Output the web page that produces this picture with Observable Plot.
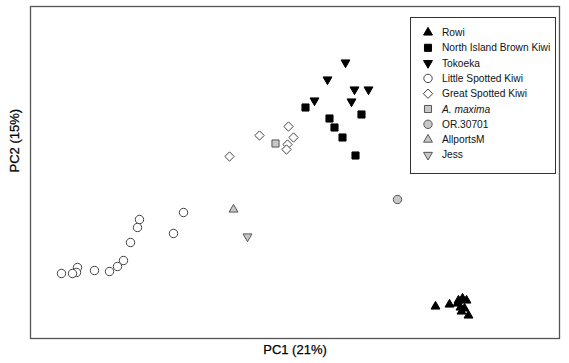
<!DOCTYPE html>
<html>
<head>
<meta charset="utf-8">
<script src="https://cdn.jsdelivr.net/npm/d3@7"></script>
<script src="https://cdn.jsdelivr.net/npm/@observablehq/plot@0.6"></script>
<style>
  html, body { margin: 0; padding: 0; background: #fff; }
  #wrap { position: relative; width: 569px; height: 363px; font-family: "Liberation Sans", Arial, sans-serif; }
  #legend { position: absolute; left: 410px; top: 17px; }
</style>
</head>
<body>
<div id="wrap"></div>
<script>
// PCA scores (PC1, PC2)
const rowiPC1 = [1.45, 1.59, 1.67, 1.68, 1.72, 1.76, 1.70, 1.74, 1.71, 1.78];
const rowiPC2 = [-1.06, -1.04, -1.03, -1.00, -0.98, -1.00, -1.07, -1.08, -1.11, -1.15];
const nibkPC1 = [0.15, 0.39, 0.71, 0.44, 0.52, 0.65];
const nibkPC2 = [0.93, 0.82, 0.86, 0.73, 0.63, 0.45];
const tokoekaPC1 = [0.55, 0.37, 0.64, 0.78, 0.24, 0.61];
const tokoekaPC2 = [1.38, 1.21, 1.11, 1.11, 1.00, 0.99];
const lskPC1 = [-1.07, -1.51, -1.53, -1.17, -1.60, -1.67, -1.73, -1.81, -1.96, -2.13, -2.14, -2.18, -2.29];
const lskPC2 = [-0.12, -0.19, -0.27, -0.33, -0.42, -0.60, -0.66, -0.71, -0.70, -0.67, -0.72, -0.73, -0.73];
const gskPC1 = [-0.02, -0.31, 0.03, -0.03, -0.04, -0.61];
const gskPC2 = [0.74, 0.65, 0.63, 0.56, 0.51, 0.44];
const maximaPC1 = [-0.15];
const maximaPC2 = [0.57];
const or30701PC1 = [1.07];
const or30701PC2 = [0.01];
const allportsPC1 = [-0.57];
const allportsPC2 = [-0.09];
const jessPC1 = [-0.43];
const jessPC2 = [-0.36];

const seriesNames = ["Rowi", "North Island Brown Kiwi", "Tokoeka", "Little Spotted Kiwi",
  "Great Spotted Kiwi", "A. maxima", "OR.30701", "AllportsM", "Jess"];
const xLabel = "PC1 (21%)";
const yLabel = "PC2 (15%)";

const sqrt3 = Math.sqrt(3);
const triangleDown = {
  draw(context, size) {
    const y = -Math.sqrt(size / (sqrt3 * 3));
    context.moveTo(0, -y * 2);
    context.lineTo(-sqrt3 * y, y);
    context.lineTo(sqrt3 * y, y);
    context.closePath();
  }
};

const toRows = (xs, ys) => xs.map((x, i) => ({pc1: x, pc2: ys[i]}));

const styles = [
  {name: seriesNames[0], data: toRows(rowiPC1, rowiPC2), symbol: "triangle", fill: "#000", stroke: "#000", r: 3.3},
  {name: seriesNames[1], data: toRows(nibkPC1, nibkPC2), symbol: "square", fill: "#000", stroke: "#000", r: 4.0},
  {name: seriesNames[2], data: toRows(tokoekaPC1, tokoekaPC2), symbol: triangleDown, fill: "#000", stroke: "#000", r: 3.3},
  {name: seriesNames[3], data: toRows(lskPC1, lskPC2), symbol: "circle", fill: "#fff", stroke: "#444", r: 4.2},
  {name: seriesNames[4], data: toRows(gskPC1, gskPC2), symbol: "diamond2", fill: "#fff", stroke: "#444", r: 4.2},
  {name: seriesNames[5], data: toRows(maximaPC1, maximaPC2), symbol: "square", fill: "#c8c8c8", stroke: "#555", r: 4.0},
  {name: seriesNames[6], data: toRows(or30701PC1, or30701PC2), symbol: "circle", fill: "#c8c8c8", stroke: "#555", r: 4.2},
  {name: seriesNames[7], data: toRows(allportsPC1, allportsPC2), symbol: "triangle", fill: "#c8c8c8", stroke: "#555", r: 3.3},
  {name: seriesNames[8], data: toRows(jessPC1, jessPC2), symbol: triangleDown, fill: "#c8c8c8", stroke: "#555", r: 3.3}
];

const chart = Plot.plot({
  width: 569,
  height: 363,
  marginLeft: 30,
  marginRight: 10,
  marginTop: 6,
  marginBottom: 25,
  style: {fontFamily: "Liberation Sans, Arial, sans-serif", background: "#fff"},
  x: {domain: [-2.6, 2.69], axis: null},
  y: {domain: [-1.38, 1.94], axis: null},
  marks: [
    Plot.frame({stroke: "#555", strokeWidth: 1.3}),
    ...styles.map(s => Plot.dot(s.data, {
      x: "pc1", y: "pc2", symbol: s.symbol, r: s.r,
      fill: s.fill, stroke: s.stroke, strokeWidth: 1
    })),
    Plot.text([xLabel], {text: d => d, frameAnchor: "bottom", dy: 15, fontSize: 13, fill: "#000", stroke: "#000", strokeWidth: 0.25}),
    Plot.text([yLabel], {text: d => d, frameAnchor: "left", dx: -16, rotate: -90, fontSize: 13, fill: "#000", stroke: "#000", strokeWidth: 0.25})
  ]
});
document.getElementById("wrap").appendChild(chart);

// Legend (overlay box)
const lw = 145, lh = 156;
const leg = d3.select("#wrap").append("svg")
  .attr("id", "legend").attr("width", lw + 2).attr("height", lh + 2);
leg.append("rect").attr("x", 0.5).attr("y", 0.5).attr("width", lw).attr("height", lh)
  .attr("fill", "#fff").attr("stroke", "#333").attr("stroke-width", 1);
const symMap = {triangle: d3.symbolTriangle, square: d3.symbolSquare, circle: d3.symbolCircle, diamond2: d3.symbolDiamond2};
styles.forEach((s, i) => {
  const cy = 15.5 + i * 15.3;
  const sym = typeof s.symbol === "string" ? symMap[s.symbol] : s.symbol;
  leg.append("path")
    .attr("d", d3.symbol(sym, Math.PI * s.r * s.r)())
    .attr("transform", `translate(18,${cy})`)
    .attr("fill", s.fill).attr("stroke", s.stroke).attr("stroke-width", 1);
  leg.append("text").attr("x", 32).attr("y", cy).attr("dy", "0.35em")
    .attr("font-size", 10.2).attr("font-family", "Liberation Sans, Arial, sans-serif")
    .attr("font-style", s.name === "A. maxima" ? "italic" : "normal")
    .attr("fill", "#111")
    .text(s.name);
});
</script>
</body>
</html>
